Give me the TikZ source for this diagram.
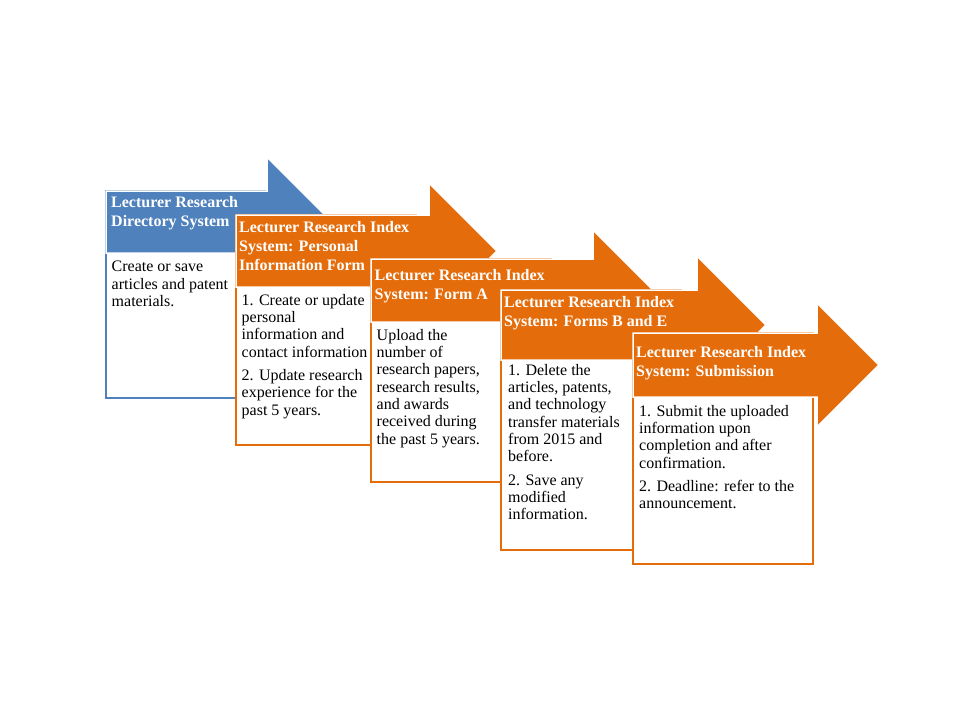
\documentclass[tikz,border=0pt]{standalone}
\usepackage{fontspec}
\setmainfont{Liberation Serif}
\definecolor{stblue}{HTML}{4F81BD}
\definecolor{storange}{HTML}{E46C0A}
\begin{document}
\begin{tikzpicture}[x=1pt,y=-1pt,
  boxshape/.style={fill=white,draw=#1,line width=2pt},
  arrowshape/.style={fill=#1,draw=white,line width=1.5pt,line join=miter},
  headtext/.style={anchor=north west,inner sep=0pt,align=left,text=white,
    font=\fontsize{16}{19}\selectfont\bfseries},
  bodytext/.style={anchor=north west,inner sep=0pt,align=left,text=black,
    font=\fontsize{16}{17.3}\selectfont}]
\useasboundingbox[fill=white] (0,0) rectangle (960,720);
% stage 1
\path[boxshape=stblue] (106,191) rectangle (286,398);
\path[arrowshape=stblue] (106,191) -- (267,191) -- (267,157) -- (332,222) -- (267,287) -- (267,253) -- (106,253) -- cycle;
\node[headtext] (h1) at (111,196) {Lecturer Research\\Directory System};
\node[bodytext] (b1) at (111.5,261) {Create or save\\articles and patent\\materials.};
% stage 2
\path[boxshape=storange] (236,215) rectangle (416,445);
\path[arrowshape=storange] (236,215) -- (429,215) -- (429,183) -- (497,251) -- (429,319) -- (429,287) -- (236,287) -- cycle;
\node[headtext] (h2) at (239,221) {Lecturer Research Index\\System: Personal\\Information Form};
\node[bodytext] (b2) at (241.5,294) {1. Create or update\\personal\\information and\\contact information\\[6pt]2. Update research\\experience for the\\past 5 years.};
% stage 3
\path[boxshape=storange] (371,259) rectangle (551,482);
\path[arrowshape=storange] (371,259) -- (593,259) -- (593,230) -- (653.5,290.5) -- (593,351) -- (593,322) -- (371,322) -- cycle;
\node[headtext] (h3) at (374.5,269) {Lecturer Research Index\\System: Form A};
\node[bodytext] (b3) at (376.5,329) {Upload the\\number of\\research papers,\\research results,\\and awards\\received during\\the past 5 years.};
% stage 4
\path[boxshape=storange] (501,290) rectangle (681,550);
\path[arrowshape=storange] (501,290) -- (697,290) -- (697,256) -- (766,325) -- (697,394) -- (697,360) -- (501,360) -- cycle;
\node[headtext] (h4) at (504,296) {Lecturer Research Index\\System: Forms B and E};
\node[bodytext] (b4) at (508,364) {1. Delete the\\articles, patents,\\and technology\\transfer materials\\from 2015 and\\before.\\[6pt]2. Save any\\modified\\information.};
% stage 5
\path[boxshape=storange] (633,333) rectangle (813,564);
\path[arrowshape=storange] (633,333) -- (817,333) -- (817,303) -- (879,365) -- (817,427) -- (817,397) -- (633,397) -- cycle;
\node[headtext] (h5) at (636,346) {Lecturer Research Index\\System: Submission};
\node[bodytext] (b5) at (639,405) {1. Submit the uploaded\\information upon\\completion and after\\confirmation.\\[6pt]2. Deadline: refer to the\\announcement.};
\end{tikzpicture}
\end{document}
